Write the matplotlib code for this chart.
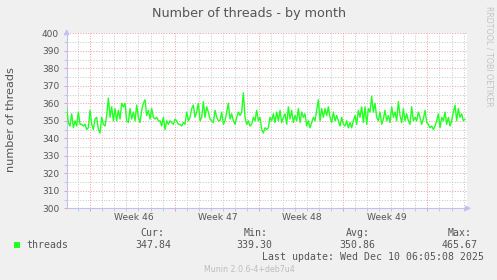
import numpy as np
import matplotlib.pyplot as plt
from matplotlib.patches import Rectangle

W, H = 497, 280

# number of threads from left to right
threads = [
    357, 349, 347, 354, 346, 350, 347, 355, 348, 348, 347, 348, 345, 346, 356,
    348, 345, 351, 352, 345, 343, 352, 348, 347, 353, 363, 352, 358, 350, 357,
    350, 356, 351, 360, 358, 360, 350, 349, 357, 351, 355, 350, 359, 352, 349,
    356, 360, 362, 353, 356, 351, 357, 352, 351, 352, 350, 350, 347, 352, 345,
    350, 348, 350, 349, 348, 351, 350, 348, 348, 347, 349, 348, 355, 350, 352,
    357, 359, 352, 355, 360, 350, 352, 361, 352, 358, 355, 351, 350, 349, 356,
    352, 350, 350, 355, 348, 350, 355, 360, 351, 354, 350, 348, 352, 355, 353,
    355, 366, 352, 348, 350, 347, 348, 352, 350, 356, 350, 352, 345, 343, 346,
    345, 346, 352, 350, 354, 349, 355, 350, 356, 349, 352, 354, 348, 358, 351,
    356, 349, 353, 350, 357, 349, 355, 352, 354, 347, 350, 346, 349, 352, 350,
    356, 362, 350, 357, 352, 357, 353, 358, 352, 349, 355, 350, 353, 350, 347,
    352, 348, 347, 350, 346, 349, 346, 350, 353, 348, 356, 352, 358, 349, 358,
    348, 357, 355, 364, 355, 360, 352, 350, 355, 348, 351, 356, 350, 353, 349,
    358, 352, 355, 350, 361, 353, 349, 357, 350, 354, 350, 348, 358, 350, 352,
    350, 355, 352, 348, 351, 356, 349, 348, 346, 347, 345, 347, 350, 354, 346,
    352, 350, 355, 348, 352, 347, 350, 355, 359, 350, 357, 352, 354, 350, 351,
]
week_labels = ['Week 46', 'Week 47', 'Week 48', 'Week 49']
y_ticks = list(range(300, 401, 10))
stat_names = ['Cur:', 'Min:', 'Avg:', 'Max:']
stat_values = ['347.84', '339.30', '350.86', '465.67']

span = 33.22        # days shown
first_week = 1.96   # first week line, days from the left edge
t = np.linspace(0.0, 33.08, len(threads))

green = '#22ff22'
minor_c = '#c8c8c8'
major_c = '#eda0a0'
axis_c = '#c0c0f4'
text_c = '#555555'

fig = plt.figure(figsize=(W / 100, H / 100), dpi=100, facecolor='#f0f0f0')
ax = fig.add_axes([66.7 / W, 1 - 208.3 / H, 400 / W, 175 / H])
ax.set_facecolor('white')
ax.set_xlim(0, span)
ax.set_ylim(300, 400)

grid = dict(lw=0.72, ls=(0, (1, 1.6)))
majors_x = np.arange(first_week, span, 7)
days = np.arange(first_week - 1, span, 1)
minors_x = [d for d in days if not np.any(np.isclose(d, majors_x))]
for d in minors_x:
    ax.axvline(d, color=minor_c, zorder=1, **grid)
for yv in range(305, 400, 10):
    ax.axhline(yv, color=minor_c, zorder=1, **grid)
for d in majors_x:
    ax.axvline(d, color=major_c, zorder=2, **grid)
for yv in y_ticks[1:]:
    ax.axhline(yv, color=major_c, zorder=2, **grid)

ax.plot(t, threads, color=green, lw=1.0, zorder=3)

# ticks
ax.set_yticks(y_ticks)
ax.set_yticks(range(305, 400, 10), minor=True)
ax.set_xticks(majors_x, labels=[''] * len(majors_x))
ax.set_xticks(minors_x, minor=True)
ax.tick_params(axis='both', which='major', length=2.5, width=0.7, color=major_c,
               labelsize=6.5, labelcolor=text_c, pad=3)
ax.tick_params(axis='both', which='minor', length=2.5, width=0.7, color=minor_c)
for i, lab in enumerate(week_labels):
    ax.text(majors_x[i] + 3.6, -0.025, lab, transform=ax.get_xaxis_transform(),
            ha='center', va='top', fontsize=6.6, color=text_c)

for s in ('top', 'right'):
    ax.spines[s].set_visible(False)
for s in ('left', 'bottom'):
    ax.spines[s].set_color(axis_c)
    ax.spines[s].set_linewidth(0.8)
ax.annotate('', xy=(0, 1.04), xytext=(0, 0.99), xycoords='axes fraction',
            arrowprops=dict(arrowstyle='-|>', color=axis_c, lw=0.8, mutation_scale=8))
ax.annotate('', xy=(1.018, 0), xytext=(0.99, 0), xycoords='axes fraction',
            arrowprops=dict(arrowstyle='-|>', color=axis_c, lw=0.8, mutation_scale=8))

# titles and side texts
fig.text(249 / W, 1 - 14 / H, 'Number of threads - by month', ha='center', va='center',
         fontsize=9.2, color=text_c)
fig.text(11 / W, 1 - 119.5 / H, 'number of threads', rotation=90, ha='center', va='center',
         fontsize=8.1, color=text_c)
fig.text(488.5 / W, 1 - 56 / H, 'RRDTOOL / TOBI OETIKER', rotation=270, ha='center',
         va='center', fontsize=5.7, color='#c4c4c4')

# legend
fig.add_artist(Rectangle((14 / W, 1 - 248.3 / H), 6 / W, 6 / H, transform=fig.transFigure,
                         facecolor=green, edgecolor='none'))
mono = dict(family='DejaVu Sans Mono', fontsize=7.1, color=text_c, va='center', ha='left')
fig.text(26.7 / W, 1 - 245.5 / H, 'threads', **mono)
name_x = [140.7, 243.5, 346, 447.7]
value_x = [135, 236.7, 339.3, 441.7]
for nm, vx, nx, val in zip(stat_names, value_x, name_x, stat_values):
    fig.text(nx / W, 1 - 233.3 / H, nm, **mono)
    fig.text(vx / W, 1 - 245.5 / H, val, **mono)
fig.text(261.7 / W, 1 - 257.3 / H, 'Last update: Wed Dec 10 06:05:08 2025', **mono)
fig.text(249 / W, 1 - 269 / H, 'Munin 2.0.6-4+deb7u4', ha='center', va='center',
         fontsize=5.7, color='#bdbdbd')

fig.savefig('out.png', dpi=100, facecolor=fig.get_facecolor())
